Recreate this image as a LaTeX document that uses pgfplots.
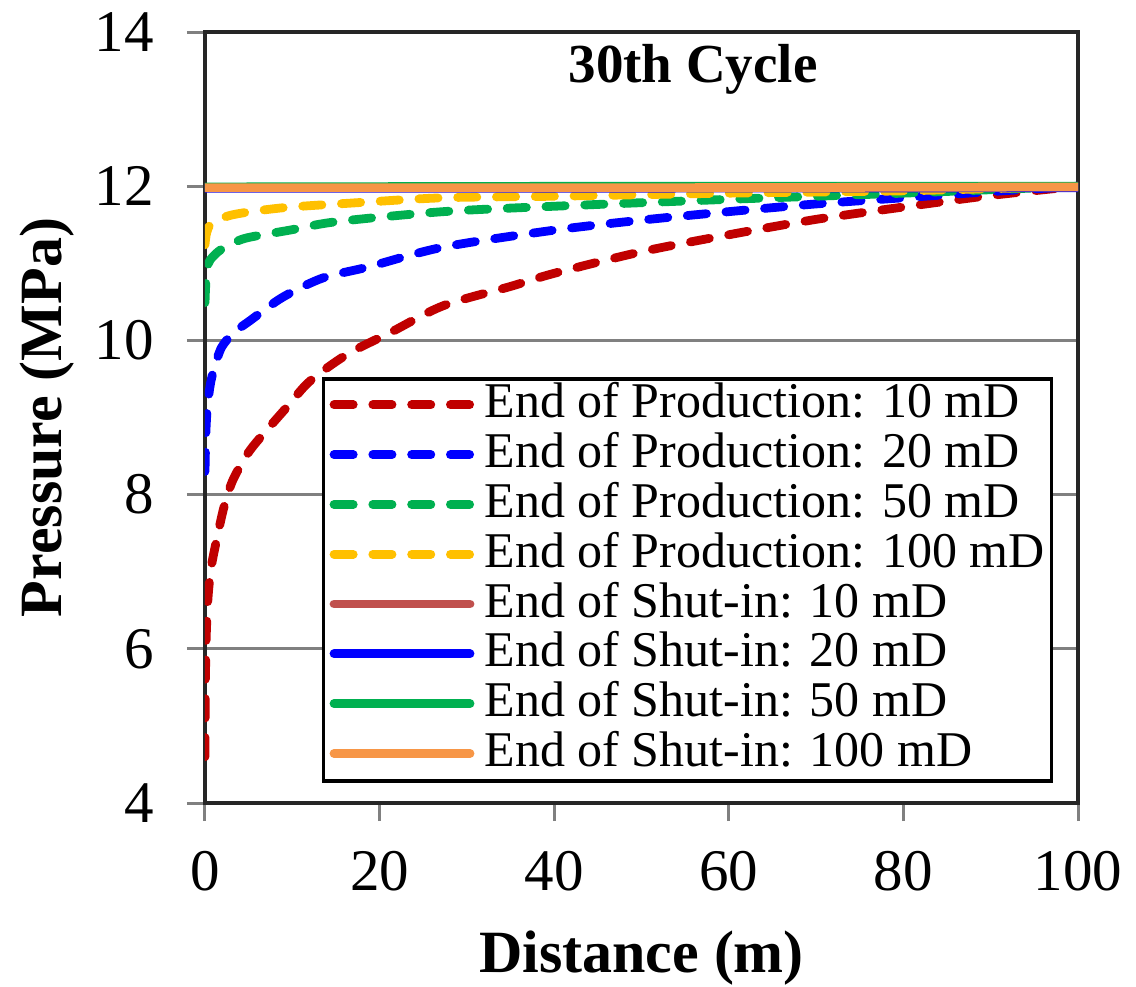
\documentclass[border=0pt]{standalone}
\usepackage{fontspec}
\setmainfont{Liberation Serif}
\usepackage{pgfplots}
\pgfplotsset{compat=1.18}
\definecolor{cRed}{HTML}{C00000}
\definecolor{cBlue}{HTML}{0000FF}
\definecolor{cGreen}{HTML}{00B050}
\definecolor{cYellow}{HTML}{FFC000}
\definecolor{cBrown}{HTML}{C0504D}
\definecolor{cOrange}{HTML}{F79646}
\begin{document}
\begin{tikzpicture}
\begin{axis}[
  width=218.25pt, height=192.75pt, scale only axis,
  xmin=0, xmax=100, ymin=4, ymax=14,
  xtick={0,20,...,100}, ytick={4,6,...,14},
  xtick pos=left, ytick pos=left,
  ymajorgrids, grid style={draw=gray, line width=0.75pt},
  tick align=outside, major tick length=4.5pt,
  tick style={draw=gray, line width=0.75pt},
  axis line style={draw=black!85, line width=1pt},
  /pgf/number format/assume math mode=true,
  ticklabel style={font=\fontsize{14.75}{17}\selectfont},
  xticklabel style={yshift=-4pt},
  yticklabel style={xshift=-4.8pt},
  xlabel={Distance (m)}, ylabel={Pressure (MPa)},
  label style={font=\fontsize{15}{18}\selectfont\bfseries},
  xlabel style={at={(axis description cs:0.5,-0.2192)}, anchor=base},
  ylabel style={at={(axis description cs:-0.1638,0.5)}, anchor=base},
  title={30th Cycle},
  title style={at={(axis description cs:0.559,0.903)}, anchor=base, font=\fontsize{13.75}{16}\selectfont\bfseries},
  legend cell align=left,
  legend style={at={(axis description cs:0.9715,0.026)}, anchor=south east,
    draw=black, line width=0.9pt, fill=white, inner xsep=1.5pt, inner ysep=0.5pt,
    font=\fontsize{12.5}{12.7}\selectfont, column sep=2.4pt,
    nodes={inner xsep=0.2pt, inner ysep=0pt, text height=9.3pt, text depth=3.15pt}},
  legend image code/.code={\draw[#1] (0pt,0.2pt) -- (34pt,0.2pt);},
  every axis plot/.append style={line width=2.2pt, line cap=round},
  prod/.style={dash pattern=on 4.8pt off 4.9pt},
]
\addplot[cRed, prod, smooth, tension=0.5] coordinates {
(0,4.6) (0.05,5.6) (0.15,6.2) (0.35,6.67) (0.7,7.05) (1.4,7.45) (2.2,7.85)
(3.2,8.19) (5,8.55) (7.1,8.84) (9.5,9.15) (12,9.47) (16.3,9.82) (21.2,10.1) (27.3,10.45)
(35,10.7) (40,10.87) (50,11.15) (60,11.37) (70,11.57) (80,11.73) (90,11.88) (100,12.0)};
\addlegendentry{End of Production: 10 mD}
\addplot[cBlue, prod, smooth, tension=0.5] coordinates {
(0,8.3) (0.1,8.8) (0.25,9.1) (0.57,9.4) (1.0,9.62) (1.9,9.91) (3.3,10.1)
(5.2,10.26) (8.9,10.56) (13.5,10.81) (18.6,10.95) (27.3,11.21) (40,11.43)
(50,11.56) (60,11.67) (70,11.77) (80,11.85) (90,11.93) (100,12.0)};
\addlegendentry{End of Production: 20 mD}
\addplot[cGreen, prod, smooth, tension=0.5] coordinates {
(0,10.49) (0.1,10.75) (0.3,10.95) (0.57,11.04) (1.5,11.15) (2.8,11.24)
(4.8,11.33) (9.7,11.43) (15.1,11.54) (27.3,11.67) (40,11.74) (60,11.83)
(80,11.91) (100,12.0)};
\addlegendentry{End of Production: 50 mD}
\addplot[cYellow, prod, smooth, tension=0.5] coordinates {
(0,11.24) (0.2,11.4) (0.8,11.52) (3.2,11.63) (8.9,11.72) (16.6,11.78)
(27.3,11.85) (40,11.87) (60,11.91) (80,11.94) (100,12.0)};
\addlegendentry{End of Production: 100 mD}
\addplot[cBrown] coordinates {(0,11.99) (50,11.99) (100,11.99)};
\addlegendentry{End of Shut-in: 10 mD}
\addplot[cBlue] coordinates {(0,11.975) (50,11.975) (100,11.98)};
\addlegendentry{End of Shut-in: 20 mD}
\addplot[cGreen] coordinates {(0,11.99) (50,12.0) (100,12.0)};
\addlegendentry{End of Shut-in: 50 mD}
\addplot[cOrange] coordinates {(0,11.98) (50,11.98) (100,11.99)};
\addlegendentry{End of Shut-in: 100 mD}
\coordinate (bl) at (rel axis cs:0,0);
\coordinate (tr) at (rel axis cs:1,1);
\end{axis}
\pgfresetboundingbox
\path ([shift={(-51.25pt,-45.75pt)}]bl) rectangle ([shift={(14.5pt,8pt)}]tr);
\end{tikzpicture}
\end{document}
